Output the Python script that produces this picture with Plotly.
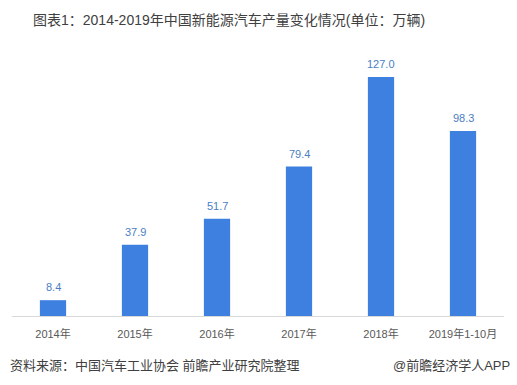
import plotly.graph_objects as go

categories = ["2014年", "2015年", "2016年", "2017年", "2018年", "2019年1-10月"]
values = [8.4, 37.9, 51.7, 79.4, 127.0, 98.3]
value_labels = ["8.4", "37.9", "51.7", "79.4", "127.0", "98.3"]

title_text = "图表1：2014-2019年中国新能源汽车产量变化情况(单位：万辆)"
source_text = "资料来源：中国汽车工业协会 前瞻产业研究院整理"
brand_text = "@前瞻经济学人APP"

FONT = "Arial, 'Liberation Sans', 'Noto Sans CJK SC', sans-serif"
BAR = "#3D80E0"

fig = go.Figure()
fig.add_trace(go.Bar(x=categories, y=values, marker=dict(color=BAR, line=dict(width=0)),
                     width=0.32, hoverinfo="skip"))

annotations = []
for c, v, t in zip(categories, values, value_labels):
    annotations.append(dict(x=c, y=v, xref="x", yref="y", text=t, showarrow=False,
                            yanchor="bottom", yshift=5,
                            font=dict(size=11, color="#4A7EC4", family=FONT)))

W, H = 517, 385
L, R, T, B = 12, 13, 50, 69
pw, ph = W - L - R, H - T - B

def px(xp):
    return (xp - L) / pw

def py(yp):
    return (H - B - yp) / ph

annotations.append(dict(x=px(31), y=py(20), xref="paper", yref="paper", text=title_text,
                        showarrow=False, xanchor="left", yanchor="middle",
                        font=dict(size=14, color="#404040", family=FONT)))
annotations.append(dict(x=px(8), y=py(365), xref="paper", yref="paper", text=source_text,
                        showarrow=False, xanchor="left", yanchor="middle",
                        font=dict(size=13, color="#404040", family=FONT)))
annotations.append(dict(x=px(512), y=py(365), xref="paper", yref="paper", text=brand_text,
                        showarrow=False, xanchor="right", yanchor="middle",
                        font=dict(size=13, color="#404040", family=FONT)))

fig.update_layout(
    width=W, height=H,
    margin=dict(l=L, r=R, t=T, b=B, pad=0),
    paper_bgcolor="white", plot_bgcolor="white",
    showlegend=False,
    annotations=annotations,
    bargap=0.68,
)
fig.update_xaxes(showline=True, linecolor="#D9D9D9", linewidth=1, showgrid=False,
                 ticks="outside", ticklen=8, tickcolor="rgba(0,0,0,0)",
                 tickfont=dict(size=11, color="#595959", family=FONT))
fig.update_yaxes(range=[0, 141.3], visible=False, showgrid=False)

fig.write_html("out.html", config={"displayModeBar": False},
               post_script="document.body.style.margin='0px';")
